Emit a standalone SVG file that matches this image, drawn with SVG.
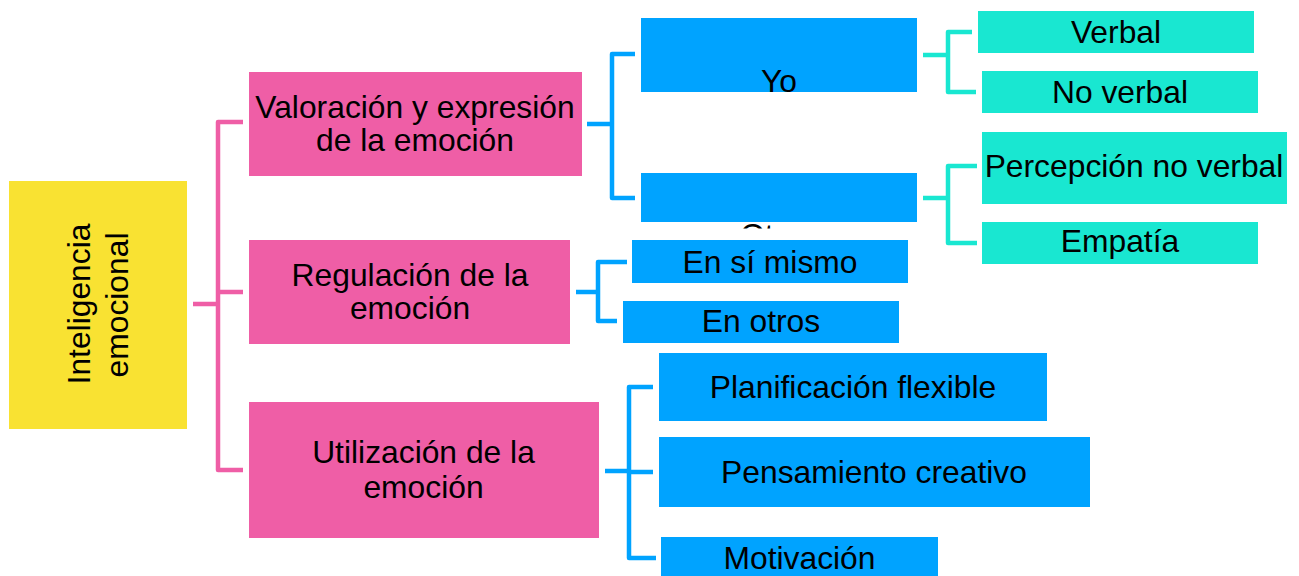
<svg xmlns="http://www.w3.org/2000/svg" width="1299" height="576" viewBox="0 0 1299 576">
<defs>
<style>
.t{font-family:"Liberation Sans",Arial,sans-serif;font-size:31.8px;fill:#000;text-anchor:middle}
.yel{fill:#F9E232}
.pink{fill:#EF5EA6}
.blue{fill:#00A3FF}
.teal{fill:#19E7D1}
.c{fill:none;stroke-width:4.5;stroke-linejoin:round}
.cp{stroke:#EF5EA6}
.cb{stroke:#00A3FF}
.ct{stroke:#19E7D1}
</style>
<clipPath id="clipOtros"><rect x="641" y="222" width="276" height="6.5"/></clipPath>
</defs>
<rect width="1299" height="576" fill="#fff"/>
<g id="connectors">
<path class="c cp" d="M193,304 H218 M243,122 H218 V470 H243 M218,292 H243"/>
<path class="c cb" d="M587,124 H612 M635,54 H612 V198 H635"/>
<path class="c ct" d="M923,55 H948 M972,32 H948 V92 H976"/>
<path class="c ct" d="M923,198 H948 M977,166 H948 V243 H977"/>
<path class="c cb" d="M576,292 H598 M627,262 H598 V321 H617"/>
<path class="c cb" d="M605,471 H629 M653,387 H629 V558 H656 M629,472 H653"/>
</g>
<g id="n-inteligencia">
<rect class="yel" x="9" y="181" width="178" height="248"/>
<text class="t" transform="translate(89.5,304) rotate(-90)">Inteligencia</text>
<text class="t" transform="translate(128,305) rotate(-90)">emocional</text>
</g>
<g id="n-valoracion">
<rect class="pink" x="249" y="72" width="333" height="104"/>
<text class="t" x="415" y="118">Valoración y expresión</text>
<text class="t" x="415" y="151">de la emoción</text>
</g>
<g id="n-regulacion">
<rect class="pink" x="249" y="240" width="321" height="104"/>
<text class="t" x="410" y="286">Regulación de la</text>
<text class="t" x="410" y="319">emoción</text>
</g>
<g id="n-utilizacion">
<rect class="pink" x="249" y="402" width="350" height="136"/>
<text class="t" x="423.5" y="463">Utilización de la</text>
<text class="t" x="423.5" y="498">emoción</text>
</g>
<g id="n-yo">
<rect class="blue" x="641" y="18" width="276" height="74"/>
<text class="t" x="779" y="92">Yo</text>
</g>
<g id="n-otros">
<rect class="blue" x="641" y="173" width="276" height="49"/>
<text class="t" x="779" y="246" clip-path="url(#clipOtros)">Otros</text>
</g>
<g id="n-verbal">
<rect class="teal" x="978" y="11" width="276" height="42"/>
<text class="t" x="1116" y="43">Verbal</text>
</g>
<g id="n-noverbal">
<rect class="teal" x="982" y="71" width="276" height="42"/>
<text class="t" x="1120" y="103">No verbal</text>
</g>
<g id="n-percepcion">
<rect class="teal" x="982" y="132" width="305" height="72"/>
<text class="t" x="1134" y="177">Percepción no verbal</text>
</g>
<g id="n-empatia">
<rect class="teal" x="982" y="222" width="276" height="42"/>
<text class="t" x="1120" y="252">Empatía</text>
</g>
<g id="n-ensimismo">
<rect class="blue" x="632" y="240" width="276" height="43"/>
<text class="t" x="770" y="273">En sí mismo</text>
</g>
<g id="n-enotros">
<rect class="blue" x="623" y="301" width="276" height="42"/>
<text class="t" x="761" y="332">En otros</text>
</g>
<g id="n-planificacion">
<rect class="blue" x="659" y="353" width="388" height="68"/>
<text class="t" x="853" y="398">Planificación flexible</text>
</g>
<g id="n-pensamiento">
<rect class="blue" x="659" y="437" width="431" height="70"/>
<text class="t" x="874" y="483">Pensamiento creativo</text>
</g>
<g id="n-motivacion">
<rect class="blue" x="661" y="537" width="277" height="39"/>
<text class="t" x="799.5" y="569">Motivación</text>
</g>
</svg>
